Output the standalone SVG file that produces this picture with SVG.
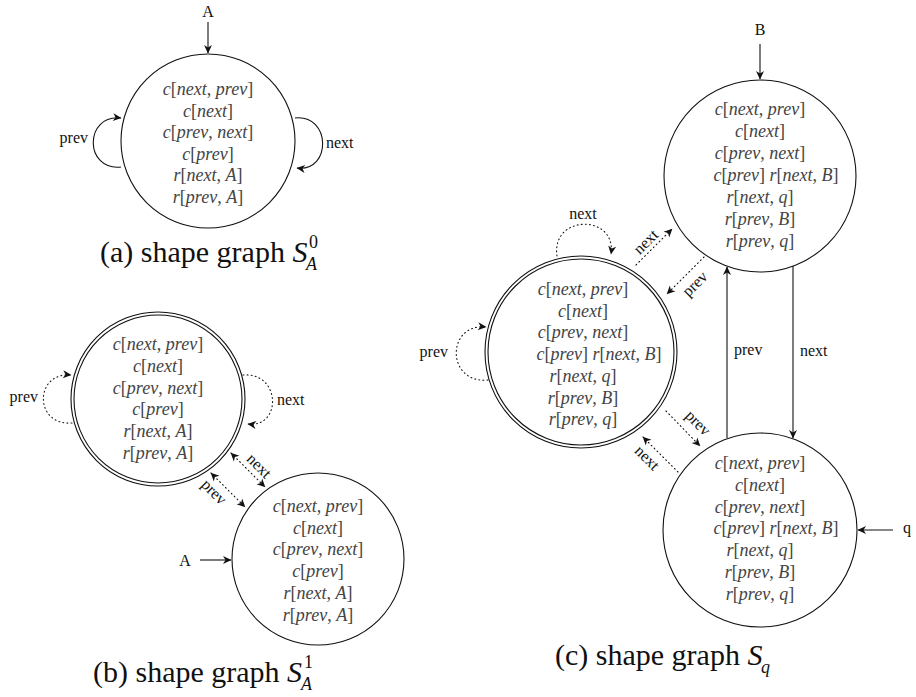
<svg xmlns="http://www.w3.org/2000/svg" width="916" height="697" viewBox="0 0 916 697">
  <style>
    .node { fill: none; stroke: #111; stroke-width: 1.1; }
    .edge { fill: none; stroke: #111; stroke-width: 1.1; }
    .dot { fill: none; stroke: #111; stroke-width: 1.1; stroke-dasharray: 0.9 3.2; stroke-linecap: round; }
    .pred { font-family: 'Liberation Serif', 'DejaVu Serif', serif; font-style: italic; font-size: 18px; fill: #444; text-anchor: middle; }
    .u { font-style: normal; }
    .lbl { font-family: 'Liberation Serif', 'DejaVu Serif', serif; font-size: 16px; fill: #111; }
    .mid { text-anchor: middle; }
    .end { text-anchor: end; }
    .cap { font-family: 'Liberation Serif', 'DejaVu Serif', serif; font-size: 30px; fill: #111; }
    .it { font-style: italic; }
    .scr { font-size: 18px; }
  </style>
  <defs>
    <marker id="ah" viewBox="-9 -5 10 10" refX="0" refY="0" markerWidth="10" markerHeight="10" markerUnits="userSpaceOnUse" orient="auto-start-reverse">
      <path d="M0.5,0 L-8,-4 L-5.5,0 L-8,4 Z" fill="#111"/>
    </marker>
  </defs>

  <!-- (a) single summary node with self loops -->
  <g id="a-node">
    <circle class="node" cx="208" cy="141" r="87"/>
    <text class="pred" x="208" y="95">c<tspan class="u">[</tspan>next<tspan class="u">, </tspan>prev<tspan class="u">]</tspan></text>
    <text class="pred" x="208" y="116.5">c<tspan class="u">[</tspan>next<tspan class="u">]</tspan></text>
    <text class="pred" x="208" y="138">c<tspan class="u">[</tspan>prev<tspan class="u">, </tspan>next<tspan class="u">]</tspan></text>
    <text class="pred" x="208" y="159.5">c<tspan class="u">[</tspan>prev<tspan class="u">]</tspan></text>
    <text class="pred" x="208" y="181">r<tspan class="u">[</tspan>next<tspan class="u">, </tspan>A<tspan class="u">]</tspan></text>
    <text class="pred" x="208" y="202.5">r<tspan class="u">[</tspan>prev<tspan class="u">, </tspan>A<tspan class="u">]</tspan></text>
  </g>
  <g id="a-connectors">
    <text class="lbl mid" x="208" y="17">A</text>
    <path class="edge" d="M208,22 L208,53" marker-end="url(#ah)"/>
    <path class="edge" d="M121,167 C84,171 84,114 121,118" marker-end="url(#ah)"/>
    <text class="lbl end" x="88" y="143">prev</text>
    <path class="edge" d="M295,118 C331,114 332,172 297,168" marker-end="url(#ah)"/>
    <text class="lbl" x="326" y="148">next</text>
  </g>
  <text class="cap" x="100" y="262">(a) shape graph <tspan class="it">S</tspan></text>
  <text class="cap it scr" x="306" y="270">A</text>
  <text class="cap scr" x="309" y="248">0</text>

  <!-- (b) summary node plus the node pointed to by A -->
  <g id="b-summary">
    <circle class="node" cx="158" cy="399" r="87"/>
    <circle class="node" cx="158" cy="399" r="84"/>
    <text class="pred" x="158" y="350">c<tspan class="u">[</tspan>next<tspan class="u">, </tspan>prev<tspan class="u">]</tspan></text>
    <text class="pred" x="158" y="371.8">c<tspan class="u">[</tspan>next<tspan class="u">]</tspan></text>
    <text class="pred" x="158" y="393.6">c<tspan class="u">[</tspan>prev<tspan class="u">, </tspan>next<tspan class="u">]</tspan></text>
    <text class="pred" x="158" y="415.4">c<tspan class="u">[</tspan>prev<tspan class="u">]</tspan></text>
    <text class="pred" x="158" y="437.2">r<tspan class="u">[</tspan>next<tspan class="u">, </tspan>A<tspan class="u">]</tspan></text>
    <text class="pred" x="158" y="459">r<tspan class="u">[</tspan>prev<tspan class="u">, </tspan>A<tspan class="u">]</tspan></text>
  </g>
  <g id="b-head">
    <circle class="node" cx="318" cy="559" r="86"/>
    <text class="pred" x="318" y="512">c<tspan class="u">[</tspan>next<tspan class="u">, </tspan>prev<tspan class="u">]</tspan></text>
    <text class="pred" x="318" y="533.7">c<tspan class="u">[</tspan>next<tspan class="u">]</tspan></text>
    <text class="pred" x="318" y="555.4">c<tspan class="u">[</tspan>prev<tspan class="u">, </tspan>next<tspan class="u">]</tspan></text>
    <text class="pred" x="318" y="577.1">c<tspan class="u">[</tspan>prev<tspan class="u">]</tspan></text>
    <text class="pred" x="318" y="598.8">r<tspan class="u">[</tspan>next<tspan class="u">, </tspan>A<tspan class="u">]</tspan></text>
    <text class="pred" x="318" y="620.5">r<tspan class="u">[</tspan>prev<tspan class="u">, </tspan>A<tspan class="u">]</tspan></text>
  </g>
  <g id="b-connectors">
    <path class="dot" d="M72,423 C34,426 34,372 71,375" marker-end="url(#ah)"/>
    <text class="lbl end" x="38" y="402">prev</text>
    <path class="dot" d="M243,375 C281,372 282,428 248,424" marker-end="url(#ah)"/>
    <text class="lbl" x="277" y="405">next</text>
    <path class="dot" d="M231,453 L265,487" marker-start="url(#ah)" marker-end="url(#ah)"/>
    <text class="lbl mid" transform="translate(259,466) rotate(45)" y="5">next</text>
    <path class="dot" d="M211,473 L245,507" marker-start="url(#ah)" marker-end="url(#ah)"/>
    <text class="lbl mid" transform="translate(214,492) rotate(45)" y="5">prev</text>
    <text class="lbl mid" x="185" y="566">A</text>
    <path class="edge" d="M200,560 L231,560" marker-end="url(#ah)"/>
  </g>
  <text class="cap" x="93" y="682">(b) shape graph <tspan class="it">S</tspan></text>
  <text class="cap it scr" x="301" y="690">A</text>
  <text class="cap scr" x="304" y="668">1</text>

  <!-- (c) node B, summary node and node q -->
  <g id="c-B">
    <circle class="node" cx="760" cy="176" r="96"/>
    <text class="pred" x="760" y="115">c<tspan class="u">[</tspan>next<tspan class="u">, </tspan>prev<tspan class="u">]</tspan></text>
    <text class="pred" x="760" y="137">c<tspan class="u">[</tspan>next<tspan class="u">]</tspan></text>
    <text class="pred" x="760" y="159">c<tspan class="u">[</tspan>prev<tspan class="u">, </tspan>next<tspan class="u">]</tspan></text>
    <text class="pred" x="776" y="181">c<tspan class="u">[</tspan>prev<tspan class="u">]  </tspan>r<tspan class="u">[</tspan>next<tspan class="u">, </tspan>B<tspan class="u">]</tspan></text>
    <text class="pred" x="760" y="203">r<tspan class="u">[</tspan>next<tspan class="u">, </tspan>q<tspan class="u">]</tspan></text>
    <text class="pred" x="760" y="225">r<tspan class="u">[</tspan>prev<tspan class="u">, </tspan>B<tspan class="u">]</tspan></text>
    <text class="pred" x="760" y="247">r<tspan class="u">[</tspan>prev<tspan class="u">, </tspan>q<tspan class="u">]</tspan></text>
  </g>
  <g id="c-summary">
    <circle class="node" cx="581" cy="352" r="96"/>
    <circle class="node" cx="581" cy="352" r="93"/>
    <text class="pred" x="583" y="295">c<tspan class="u">[</tspan>next<tspan class="u">, </tspan>prev<tspan class="u">]</tspan></text>
    <text class="pred" x="583" y="316.7">c<tspan class="u">[</tspan>next<tspan class="u">]</tspan></text>
    <text class="pred" x="583" y="338.4">c<tspan class="u">[</tspan>prev<tspan class="u">, </tspan>next<tspan class="u">]</tspan></text>
    <text class="pred" x="599" y="360.1">c<tspan class="u">[</tspan>prev<tspan class="u">]  </tspan>r<tspan class="u">[</tspan>next<tspan class="u">, </tspan>B<tspan class="u">]</tspan></text>
    <text class="pred" x="583" y="381.8">r<tspan class="u">[</tspan>next<tspan class="u">, </tspan>q<tspan class="u">]</tspan></text>
    <text class="pred" x="583" y="403.5">r<tspan class="u">[</tspan>prev<tspan class="u">, </tspan>B<tspan class="u">]</tspan></text>
    <text class="pred" x="583" y="425.2">r<tspan class="u">[</tspan>prev<tspan class="u">, </tspan>q<tspan class="u">]</tspan></text>
  </g>
  <g id="c-q">
    <circle class="node" cx="760" cy="530" r="97"/>
    <text class="pred" x="760" y="469">c<tspan class="u">[</tspan>next<tspan class="u">, </tspan>prev<tspan class="u">]</tspan></text>
    <text class="pred" x="760" y="490.8">c<tspan class="u">[</tspan>next<tspan class="u">]</tspan></text>
    <text class="pred" x="760" y="512.6">c<tspan class="u">[</tspan>prev<tspan class="u">, </tspan>next<tspan class="u">]</tspan></text>
    <text class="pred" x="776" y="534.4">c<tspan class="u">[</tspan>prev<tspan class="u">]  </tspan>r<tspan class="u">[</tspan>next<tspan class="u">, </tspan>B<tspan class="u">]</tspan></text>
    <text class="pred" x="760" y="556.2">r<tspan class="u">[</tspan>next<tspan class="u">, </tspan>q<tspan class="u">]</tspan></text>
    <text class="pred" x="760" y="578">r<tspan class="u">[</tspan>prev<tspan class="u">, </tspan>B<tspan class="u">]</tspan></text>
    <text class="pred" x="760" y="599.8">r<tspan class="u">[</tspan>prev<tspan class="u">, </tspan>q<tspan class="u">]</tspan></text>
  </g>
  <g id="c-connectors">
    <text class="lbl mid" x="760" y="35">B</text>
    <path class="edge" d="M760,44 L760,79" marker-end="url(#ah)"/>
    <text class="lbl" x="903" y="533">q</text>
    <path class="edge" d="M893,530 L858,530" marker-end="url(#ah)"/>
    <path class="edge" d="M727,438 L727,267" marker-end="url(#ah)"/>
    <text class="lbl" x="734" y="355">prev</text>
    <path class="edge" d="M793,266 L793,438" marker-end="url(#ah)"/>
    <text class="lbl" x="800" y="356">next</text>
    <path class="dot" d="M557,256 C551,214 617,214 611,254" marker-end="url(#ah)"/>
    <text class="lbl mid" x="583" y="219">next</text>
    <path class="dot" d="M488,380 C446,384 446,323 486,327" marker-end="url(#ah)"/>
    <text class="lbl end" x="448" y="357">prev</text>
    <path class="dot" d="M636,265 L672,229" marker-end="url(#ah)"/>
    <text class="lbl mid" transform="translate(646,242) rotate(-45)" y="5">next</text>
    <path class="dot" d="M704,257 L667,294" marker-end="url(#ah)"/>
    <text class="lbl mid" transform="translate(695,284) rotate(-45)" y="5">prev</text>
    <path class="dot" d="M666,411 L700,446" marker-end="url(#ah)"/>
    <text class="lbl mid" transform="translate(698,423) rotate(45)" y="5">prev</text>
    <path class="dot" d="M678,472 L643,437" marker-end="url(#ah)"/>
    <text class="lbl mid" transform="translate(647,458) rotate(45)" y="5">next</text>
  </g>
  <text class="cap" x="555" y="665">(c) shape graph <tspan class="it">S</tspan></text>
  <text class="cap it scr" x="761" y="673">q</text>
</svg>
